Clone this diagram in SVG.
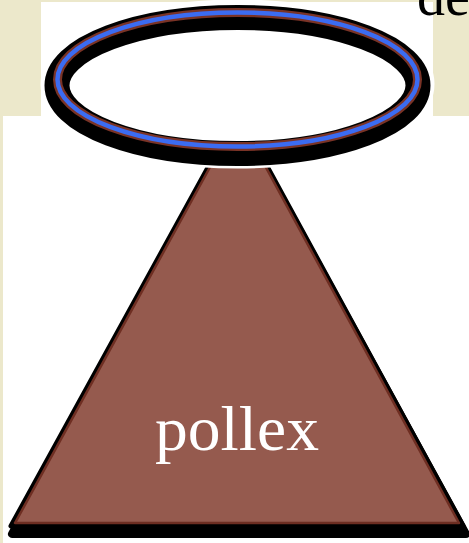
<svg xmlns="http://www.w3.org/2000/svg" width="469" height="543" viewBox="0 0 469 543">
<style>
.lbl{font-family:"Liberation Serif","Times New Roman",serif;}
</style>
<rect x="0" y="0" width="469" height="543" fill="#ECE8CB"/>
<rect x="41" y="2" width="392" height="114" fill="#FFFFFF"/>
<rect x="3" y="116" width="466" height="427" fill="#FFFFFF"/>
<text class="lbl" x="417" y="15" font-size="56" fill="#000000">de</text>
<g id="pollex">
  <polygon points="238,113 11,527 465,527" fill="#000000" stroke="#000000" stroke-width="8" stroke-linejoin="round" transform="translate(1,7)"/>
  <polygon points="238,113 11,526 463,526" fill="#955A4E" stroke="#000000" stroke-width="5" stroke-linejoin="round"/>
  <polygon points="238,116 15,523 459,523" fill="#955A4E" stroke="#6E2E22" stroke-width="2.5" stroke-linejoin="round"/>
  <text class="lbl" x="237" y="450" font-size="63" fill="#FFFFFF" text-anchor="middle" textLength="164" lengthAdjust="spacingAndGlyphs">pollex</text>
</g>
<g id="halo">
  <ellipse cx="237.5" cy="84" rx="180.5" ry="68" fill="#FFFFFF" stroke="#FFFFFF" stroke-width="33"/>
  <ellipse cx="237.5" cy="85.5" rx="180.5" ry="68" fill="none" stroke="#000000" stroke-width="25"/>
  <ellipse cx="237.5" cy="79.5" rx="180" ry="67" fill="none" stroke="#7A3326" stroke-width="9"/>
  <ellipse cx="237.5" cy="79.5" rx="180" ry="67" fill="none" stroke="#3B6CF2" stroke-width="4.5"/>
</g>
<g id="connectors"></g>
</svg>
